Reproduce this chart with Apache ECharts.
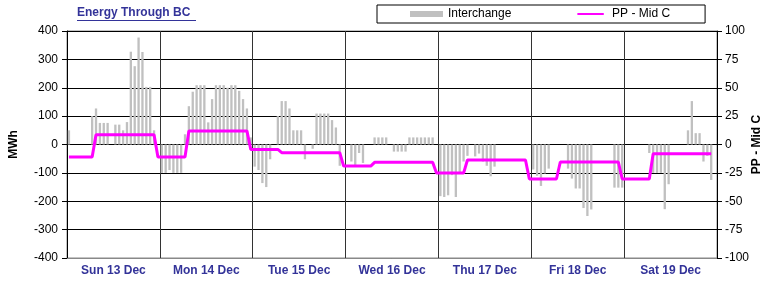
<!DOCTYPE html>
<html>
<head>
<meta charset="utf-8">
<script src="https://cdn.jsdelivr.net/npm/echarts@6/dist/echarts.min.js"></script>
<style>
  html, body { margin: 0; padding: 0; background: #fff; }
  #chart { width: 765px; height: 283px; }
</style>
</head>
<body>
<div id="chart"></div>
<script>
const days = ['Sun 13 Dec', 'Mon 14 Dec', 'Tue 15 Dec', 'Wed 16 Dec', 'Thu 17 Dec', 'Fri 18 Dec', 'Sat 19 Dec'];

// Interchange MWh, one value per hour (00..23)
const sunMWh = [50, 0, 0, 0, 0, 0, 100, 127, 76, 76, 76, 0, 70, 70, 50, 79, 327, 276, 377, 326, 203, 203, 50, 0];
const monMWh = [-100, -100, -90, -100, -100, -100, 36, 135, 186, 209, 209, 209, 78, 160, 209, 209, 209, 200, 209, 209, 189, 160, 127, 25];
const tueMWh = [-78, -90, -136, -150, -52, 0, 100, 153, 153, 127, 50, 50, 50, -52, 0, -15, 109, 109, 109, 109, 86, 60, -75, 0];
const wedMWh = [0, -60, -75, -30, -65, 0, 0, 25, 25, 25, 25, 0, -25, -25, -25, -25, 25, 25, 25, 25, 25, 25, 25, 0];
const thuMWh = [-182, -185, -179, -108, -185, -100, -60, -40, 0, -42, -32, -60, -75, -112, -78, 0, 0, 0, 0, 0, 0, 0, 0, 0];
const friMWh = [-88, -110, -146, -102, -85, 0, 0, 0, 0, -85, -120, -155, -155, -224, -252, -229, 0, 0, 0, 0, 0, -152, -152, -152];
const satMWh = [0, 0, 0, 0, 0, 0, -30, -100, -100, -100, -228, -140, 0, 0, 0, 0, 50, 153, 40, 40, -60, -40, -125, 0];

// PP - Mid C price spread, hourly
const sunPP = [-11, -11, -11, -11, -11, -11, -11, 8.5, 8.5, 8.5, 8.5, 8.5, 8.5, 8.5, 8.5, 8.5, 8.5, 8.5, 8.5, 8.5, 8.5, 8.5, 8.5, -11];
const monPP = [-11, -11, -11, -11, -11, -11, -11, 12, 12, 12, 12, 12, 12, 12, 12, 12, 12, 12, 12, 12, 12, 12, 12, -4.3];
const tuePP = [-4.3, -4.3, -4.3, -4.3, -4.3, -4.3, -4.3, -7.2, -7.2, -7.2, -7.2, -7.2, -7.2, -7.2, -7.2, -7.2, -7.2, -7.2, -7.2, -7.2, -7.2, -7.2, -7.2, -19];
const wedPP = [-19, -19, -19, -19, -19, -19, -19, -15.7, -15.7, -15.7, -15.7, -15.7, -15.7, -15.7, -15.7, -15.7, -15.7, -15.7, -15.7, -15.7, -15.7, -15.7, -15.7, -25.2];
const thuPP = [-25.2, -25.2, -25.2, -25.2, -25.2, -25.2, -25.2, -13.7, -13.7, -13.7, -13.7, -13.7, -13.7, -13.7, -13.7, -13.7, -13.7, -13.7, -13.7, -13.7, -13.7, -13.7, -13.7, -30.4];
const friPP = [-30.4, -30.4, -30.4, -30.4, -30.4, -30.4, -30.4, -15.4, -15.4, -15.4, -15.4, -15.4, -15.4, -15.4, -15.4, -15.4, -15.4, -15.4, -15.4, -15.4, -15.4, -15.4, -15.4, -30.4];
const satPP = [-30.4, -30.4, -30.4, -30.4, -30.4, -30.4, -30.4, -8.2, -8.2, -8.2, -8.2, -8.2, -8.2, -8.2, -8.2, -8.2, -8.2, -8.2, -8.2, -8.2, -8.2, -8.2, -8.2, null];

const interchange = [].concat(sunMWh, monMWh, tueMWh, wedMWh, thuMWh, friMWh, satMWh);
const ppMidC = [].concat(sunPP, monPP, tuePP, wedPP, thuPP, friPP, satPP);

const hours = [];
days.forEach(d => { for (let h = 0; h < 24; h++) hours.push(d + ' ' + (h < 10 ? '0' + h : h)); });

const FONT = 'Liberation Sans, Arial, sans-serif';
// plain line icon for the legend (tiny corner specks keep the stroke thin)
const LINE_ICON = 'path://M0,0H0.1V0.1H0Z M0,2.4H33V5.1H0Z M32.9,7.4H33V7.5H32.9Z';
const chart = echarts.init(document.getElementById('chart'));

const option = {
  animation: false,
  textStyle: { fontFamily: FONT },
  title: {
    text: 'Energy Through BC', left: 77, top: 7, padding: 0,
    textStyle: { fontFamily: FONT, fontSize: 12, fontWeight: 'bold', color: '#333399' }
  },
  graphic: [
    { type: 'line', shape: { x1: 77, y1: 20.5, x2: 196, y2: 20.5 }, style: { stroke: '#333399', lineWidth: 1 } }
  ],
  legend: {
    left: 377, top: 5,
    padding: [3, 35, 3, 33],
    borderColor: '#000', borderWidth: 1,
    itemWidth: 33, itemHeight: 6, itemGap: 66,
    textStyle: { fontFamily: FONT, fontSize: 12, color: '#000' },
    data: [{ name: 'Interchange', icon: 'rect' }, { name: 'PP - Mid C', icon: LINE_ICON }]
  },
  grid: { left: 67, right: 48, top: 31, bottom: 25, show: true, borderColor: '#888', borderWidth: 1, outerBoundsMode: 'none', containLabel: false },
  xAxis: [
    { type: 'category', data: hours, show: false, boundaryGap: true },
    {
      type: 'category', data: days, position: 'bottom', boundaryGap: true,
      axisLine: { show: true, onZero: false, lineStyle: { color: '#888' } },
      axisTick: { show: false },
      axisLabel: { interval: 0, margin: 7, fontFamily: FONT, fontSize: 12, fontWeight: 'bold', color: '#333399' },
      splitLine: { show: true, interval: 0, lineStyle: { color: '#333', width: 1 } }
    }
  ],
  yAxis: [
    {
      type: 'value', min: -400, max: 400, interval: 100, position: 'left',
      name: 'MWh', nameLocation: 'middle', nameGap: 47, nameRotate: 90, nameMoveOverlap: false,
      nameTextStyle: { fontFamily: FONT, fontSize: 12, fontWeight: 'bold', color: '#000' },
      axisLine: { show: true, lineStyle: { color: '#000' } },
      axisTick: { show: true, length: 5, lineStyle: { color: '#000' } },
      axisLabel: { margin: 9, fontFamily: FONT, fontSize: 12, color: '#000' },
      splitLine: { show: true, lineStyle: { color: '#000', width: 1 } }
    },
    {
      type: 'value', min: -100, max: 100, interval: 25, position: 'right',
      name: 'PP - Mid C', nameLocation: 'middle', nameGap: 34, nameRotate: 90, nameMoveOverlap: false,
      nameTextStyle: { fontFamily: FONT, fontSize: 12, fontWeight: 'bold', color: '#000' },
      axisLine: { show: true, lineStyle: { color: '#000' } },
      axisTick: { show: true, length: 5, lineStyle: { color: '#000' } },
      axisLabel: { margin: 8, fontFamily: FONT, fontSize: 12, color: '#000' },
      splitLine: { show: false }
    }
  ],
  series: [
    {
      name: 'Interchange', type: 'bar', xAxisIndex: 0, yAxisIndex: 0,
      data: interchange, barCategoryGap: '40%',
      itemStyle: { color: '#c0c0c0' }
    },
    {
      name: 'PP - Mid C', type: 'line', xAxisIndex: 0, yAxisIndex: 1,
      data: ppMidC, symbol: 'none', showSymbol: false,
      lineStyle: { color: '#ff00ff', width: 3 }, itemStyle: { color: '#ff00ff' }
    }
  ]
};
chart.setOption(option);
</script>
</body>
</html>
